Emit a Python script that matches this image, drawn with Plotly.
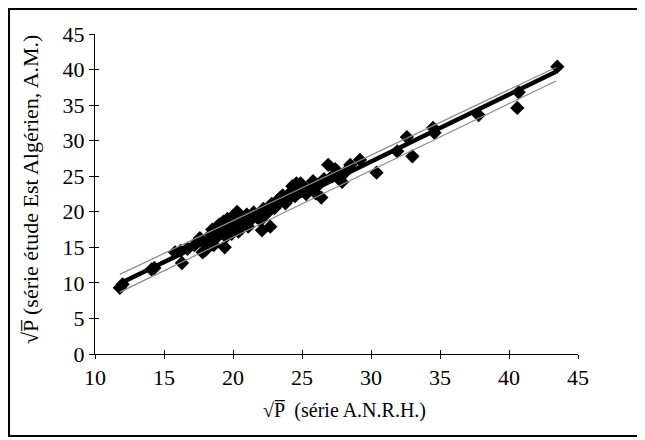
import plotly.graph_objects as go

# Observed points: sqrt(P) ANRH series (x) vs sqrt(P) Est Algérien study (y)
x_anrh = [11.8, 12.0, 14.1, 14.3, 16.3, 15.8, 16.2, 16.7, 17.2, 17.5, 17.6, 17.8,
          18.0, 18.2, 18.4, 18.5, 18.6, 18.7, 18.8, 18.9, 19.0, 19.1, 19.2, 19.3,
          19.4, 19.5, 19.5, 19.6, 19.7, 19.8, 19.9, 20.0, 20.1, 20.2, 20.3, 20.4,
          20.5, 20.6, 20.8, 21.0, 21.1, 21.3, 21.5, 21.7, 22.0, 22.1, 22.2, 22.4,
          22.7, 22.8, 23.0, 23.2, 23.4, 23.6, 23.8, 24.1, 24.3, 24.5, 24.6, 24.9,
          25.1, 25.3, 25.6, 25.8, 26.0, 26.2, 26.4, 26.6, 26.9, 27.2, 27.4, 27.6,
          27.9, 28.1, 28.5, 29.2, 30.4, 31.9, 32.6, 33.0, 34.5, 34.6, 37.8, 40.6,
          40.7, 43.5]
y_est = [9.3, 9.8, 11.9, 12.1, 12.8, 14.3, 14.5, 14.8, 15.3, 16.0, 16.3, 14.3,
         14.6, 15.8, 16.8, 17.5, 15.3, 16.2, 17.8, 16.6, 18.2, 17.0, 17.6, 18.6,
         15.0, 16.5, 17.9, 19.0, 17.3, 18.3, 16.9, 19.4, 17.8, 18.7, 20.0, 17.2,
         18.0, 19.1, 18.4, 19.6, 17.9, 18.9, 19.9, 19.3, 18.8, 17.4, 20.4, 19.7,
         17.9, 21.1, 20.5, 21.5, 21.9, 22.3, 21.2, 22.6, 23.6, 22.2, 24.0, 24.0,
         23.0, 22.5, 23.4, 24.3, 22.6, 23.8, 22.0, 24.6, 26.6, 25.0, 26.0, 24.8,
         24.2, 25.5, 26.6, 27.3, 25.5, 28.5, 30.5, 27.8, 31.8, 31.1, 33.6, 34.6,
         36.8, 40.4]

# Regression line and band (end points)
line_x = [11.8, 43.4]
fit_y = [9.9, 39.7]
upper_y = [11.2, 40.3]
lower_y = [8.7, 38.4]

x_ticks = [10, 15, 20, 25, 30, 35, 40, 45]
y_ticks = [0, 5, 10, 15, 20, 25, 30, 35, 40, 45]

FONT = "Liberation Serif"

# plot area in figure pixels
L, R, T, B = 87, 570, 26, 346
W, H = R - L, B - T


def px(fx):
    return (fx - L) / W


def py(fy):
    return (B - fy) / H


fig = go.Figure()
fig.add_trace(go.Scatter(x=x_anrh, y=y_est, mode="markers",
                         marker=dict(symbol="diamond", size=11, color="black"),
                         showlegend=False))
fig.add_trace(go.Scatter(x=line_x, y=upper_y, mode="lines",
                         line=dict(color="#8a8a8a", width=1.2), showlegend=False))
fig.add_trace(go.Scatter(x=line_x, y=lower_y, mode="lines",
                         line=dict(color="#8a8a8a", width=1.2), showlegend=False))
fig.add_trace(go.Scatter(x=line_x, y=fit_y, mode="lines",
                         line=dict(color="black", width=4.5), showlegend=False))
fig.add_trace(go.Scatter(x=[10], y=[0], xaxis="x2", yaxis="y2", mode="markers",
                         marker=dict(opacity=0), showlegend=False, hoverinfo="skip"))

axis_common = dict(showgrid=False, zeroline=False, showline=True, linecolor="black",
                   linewidth=1, tickcolor="black", tickwidth=1)
fig.update_layout(
    width=645, height=440,
    margin=dict(l=L, r=645 - R, t=T, b=440 - B),
    paper_bgcolor="white", plot_bgcolor="white",
    font=dict(family=FONT, color="black", size=22),
    xaxis=dict(range=[10, 45], tickvals=x_ticks, ticks="outside", ticklen=4,
               tickfont=dict(size=22, family=FONT), **axis_common),
    yaxis=dict(range=[0, 45], tickvals=y_ticks, ticks="outside", ticklen=5,
               tickfont=dict(size=22, family=FONT), **axis_common),
    xaxis2=dict(range=[10, 45], tickvals=x_ticks, ticks="inside", ticklen=4,
                overlaying="x", showticklabels=False, showline=False,
                showgrid=False, zeroline=False, tickcolor="black"),
    yaxis2=dict(range=[0, 45], tickvals=y_ticks, ticks="inside", ticklen=4,
                overlaying="y", showticklabels=False, showline=False,
                showgrid=False, zeroline=False, tickcolor="black"),
    shapes=[dict(type="rect", xref="paper", yref="paper",
                 x0=px(1), x1=px(633), y0=py(428), y1=py(1),
                 line=dict(color="black", width=2))],
    annotations=[
        dict(text="√P̅  (série A.N.R.H.)", xref="paper", yref="paper",
             x=px(336), y=py(402), showarrow=False,
             font=dict(size=20, family=FONT), xanchor="center", yanchor="middle"),
        dict(text="√P̅ (série étude Est Algérien, A.M.)", xref="paper", yref="paper",
             x=px(22), y=py(182), showarrow=False, textangle=-90,
             font=dict(size=22, family=FONT), xanchor="center", yanchor="middle"),
    ],
)
fig.write_html("out.html")
